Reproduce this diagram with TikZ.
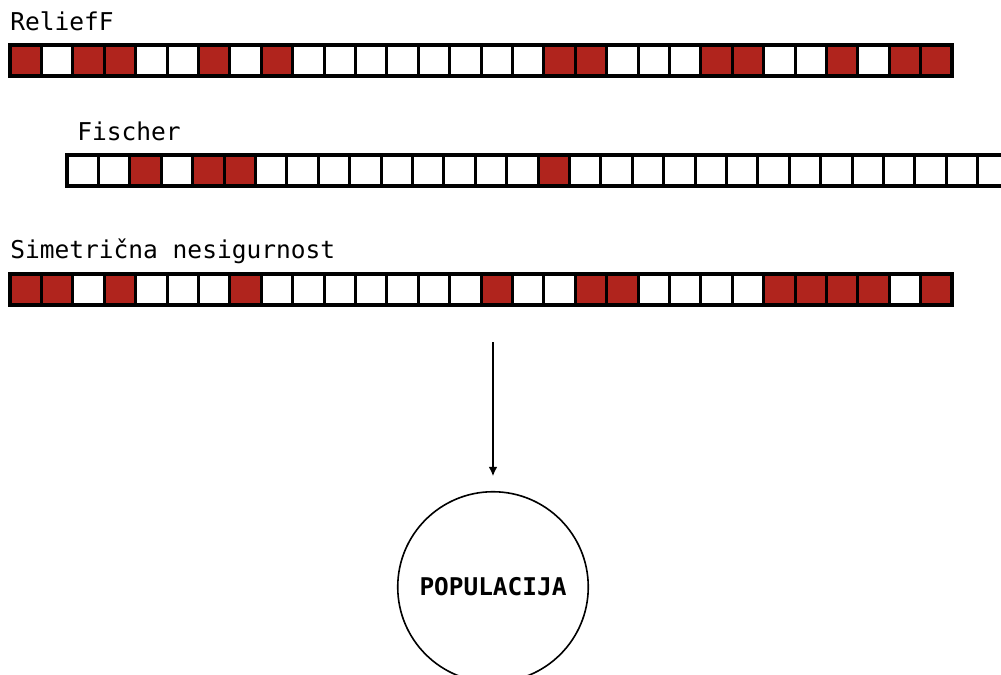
\documentclass[tikz,border=0pt]{standalone}
\usepackage{fontspec}
\setmonofont{DejaVu Sans Mono}
\usetikzlibrary{arrows.meta}
\definecolor{cellred}{RGB}{176,36,29}
\tikzset{
  cellbase/.style={draw=black, line width=2.25pt, minimum width=23.55pt, minimum height=23.25pt, inner sep=0pt, outer sep=0pt},
  cellR/.style={cellbase, fill=cellred},
  cellW/.style={cellbase, fill=white},
  barframe/.style={draw=black, line width=3pt},
  lbl/.style={anchor=base west, inner sep=0pt, font=\ttfamily\fontsize{18.4}{21}\selectfont},
  popnode/.style={circle, draw=black, line width=1.2pt, minimum size=142.9pt, inner sep=0pt, font=\ttfamily\bfseries\fontsize{18.3}{21}\selectfont},
  link/.style={draw=black, line width=1.2pt, -{Latex[length=7pt,width=6.5pt]}}
}
\begin{document}
\begin{tikzpicture}[x=0.75pt,y=-0.75pt]
\useasboundingbox (0,0) rectangle (1001,675);
\clip (0,0) rectangle (1001,675);
% labels
\node[lbl] (l1) at (10,30) {ReliefF};
\node[lbl] (l2) at (77,140) {Fischer};
\node[lbl] (l3) at (10,258) {Simetrična nesigurnost};
% row 1
\foreach \c [count=\i] in {R,W,R,R,W,W,R,W,R,W,W,W,W,W,W,W,W,R,R,W,W,W,R,R,W,W,R,W,R,R}
  \node[cell\c] (a\i) at ({10+31.4*(\i-0.5)},60) {};
\draw[barframe] (a1.north west) rectangle (a30.south east);
% row 2
\foreach \c [count=\i] in {W,W,R,W,R,R,W,W,W,W,W,W,W,W,W,R,W,W,W,W,W,W,W,W,W,W,W,W,W,W}
  \node[cell\c] (b\i) at ({67+31.4*(\i-0.5)},170) {};
\draw[barframe] (b1.north west) rectangle (b30.south east);
% row 3
\foreach \c [count=\i] in {R,R,W,R,W,W,W,R,W,W,W,W,W,W,W,R,W,W,R,R,W,W,W,W,R,R,R,R,W,R}
  \node[cell\c] (c\i) at ({10+31.4*(\i-0.5)},289.5) {};
\draw[barframe] (c1.north west) rectangle (c30.south east);
% population
\node[popnode] (pop) at (493,587) {POPULACIJA};
\coordinate (src) at (493,342);
\draw[link, shorten >=11pt] (src) -- (pop);
\end{tikzpicture}
\end{document}
